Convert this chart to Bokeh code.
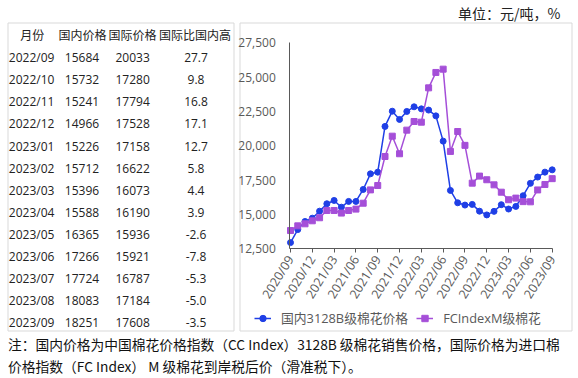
import math
from bokeh.plotting import figure
from bokeh.models import (Range1d, FixedTicker, NumeralTickFormatter, Legend,
                          LegendItem, ColumnDataSource)
from bokeh.embed import file_html
from bokeh.resources import INLINE
from bokeh.core.properties import value

# ---------------- data ----------------
tick_labels = ["2020/09", "2020/12", "2021/03", "2021/06", "2021/09", "2021/12",
               "2022/03", "2022/06", "2022/09", "2022/12", "2023/03", "2023/06", "2023/09"]
domestic = [12950, 13900, 14490, 14730, 15240, 15780, 16020, 15530, 15950, 15950,
            16820, 17960, 18080, 21410, 22520, 21920, 22500, 22840, 22690, 22600,
            22180, 20340, 16750, 15850,
            15684, 15732, 15241, 14966, 15226, 15712, 15396, 15588, 16365, 17266,
            17724, 18083, 18251]
international = [13830, 14170, 14320, 14540, 14760, 15290, 15290, 15100, 15290, 15390,
                 15820, 16790, 17110, 19220, 20700, 19420, 21140, 21770, 21720, 24220,
                 25340, 25580, 19590, 21040,
                 20033, 17280, 17794, 17528, 17158, 16622, 16073, 16190, 15936, 15921,
                 16787, 17184, 17608]
y_ticks = [12500, 15000, 17500, 20000, 22500, 25000, 27500]

table_months = ["2022/09", "2022/10", "2022/11", "2022/12", "2023/01", "2023/02", "2023/03",
                "2023/04", "2023/05", "2023/06", "2023/07", "2023/08", "2023/09"]
table_domestic = [15684, 15732, 15241, 14966, 15226, 15712, 15396, 15588, 16365, 17266,
                  17724, 18083, 18251]
table_international = [20033, 17280, 17794, 17528, 17158, 16622, 16073, 16190, 15936, 15921,
                       16787, 17184, 17608]
table_ratio = [27.7, 9.8, 16.8, 17.1, 12.7, 5.8, 4.4, 3.9, -2.6, -7.8, -5.3, -5.0, -3.5]
table_header = ["月份", "国内价格", "国际价格", "国际比国内高"]

series_names = ["国内3128B级棉花价格", "FCIndexM级棉花"]
unit_text = "单位：元/吨，%"
note_lines = ["注：国内价格为中国棉花价格指数（CC Index）3128B 级棉花销售价格，国际价格为进口棉",
              "价格指数（FC Index） M 级棉花到岸税后价（滑准税下）。"]

# ---------------- styles / geometry ----------------
FONT = "Open Sans, Noto Sans CJK SC"
CJK = "Noto Sans CJK SC"
BLUE = "#1f3fe6"
PURPLE = "#a54fd8"
AXIS_GREY = "#595959"
BOX_GREY = "#d9d9d9"
TXT = "#222222"

W, H = 578, 378
# chart plot area in page pixels
X0_PX, X36_PX = 290.0, 551.7          # positions of first / last month
Y_LO_PX, Y_HI_PX = 248.3, 42.3        # positions of 12,500 and 27,500
n_pts = len(domestic)
ppx = (X36_PX - X0_PX) / (n_pts - 1)
upy = (y_ticks[-1] - y_ticks[0]) / (Y_LO_PX - Y_HI_PX)
x_start = -X0_PX / ppx
x_end = (W - X0_PX) / ppx
y_start = y_ticks[0] - (H - Y_LO_PX) * upy
y_end = y_ticks[-1] + Y_HI_PX * upy

p = figure(width=W, height=H, x_range=Range1d(x_start, x_end),
           y_range=Range1d(y_start, y_end), output_backend="svg",
           toolbar_location=None, min_border=0)
p.min_border_left = p.min_border_right = p.min_border_top = p.min_border_bottom = 0
p.grid.visible = False
p.outline_line_color = None
p.extra_x_ranges = {"px": Range1d(0, W)}
p.extra_y_ranges = {"px": Range1d(H, 0)}
PX = dict(x_range_name="px", y_range_name="px")

# ---------------- frames (boxes) ----------------
p.quad(left=[7.5, 239.5], right=[233.5, 571.5], top=[22.5, 22.5], bottom=[330.5, 330.5],
       fill_color=None, line_color=BOX_GREY, line_width=1, **PX)

# ---------------- unit text ----------------
p.text(x=[560], y=[12], text=[unit_text], text_align="right", text_baseline="middle",
       text_font=value(CJK), text_font_size="14px", text_color=TXT, **PX)

# ---------------- table ----------------
hdr_x = [31.7, 82, 132, 194.5]
p.text(x=hdr_x, y=[35] * 4, text=table_header, text_align="center", text_baseline="middle",
       text_font=value(FONT), text_font_size="12px", text_color=TXT, **PX)
row_y = [57.3 + 22.05 * k for k in range(len(table_months))]
tsrc = ColumnDataSource(dict(
    y=row_y, m=table_months,
    d=[str(v) for v in table_domestic],
    i=[str(v) for v in table_international],
    r=["%.1f" % v for v in table_ratio]))
common = dict(source=tsrc, y="y", text_baseline="middle", text_font=value(FONT),
              text_font_size="12px", text_color=TXT, **PX)
p.text(x=8.3, text="m", text_align="left", **common)
p.text(x=64.3, text="d", text_align="left", **common)
p.text(x=115, text="i", text_align="left", **common)
p.text(x=195.5, text="r", text_align="center", **common)

# ---------------- chart axes ----------------
ya = p.yaxis[0]
ya.fixed_location = -0.1
ya.bounds = (y_ticks[0], y_ticks[-1])
ya.ticker = FixedTicker(ticks=y_ticks)
ya.formatter = NumeralTickFormatter(format="0,0")
ya.major_tick_line_color = None
ya.minor_tick_line_color = None
ya.axis_line_color = AXIS_GREY
ya.major_label_standoff = 8
ya.major_label_text_font = FONT
ya.major_label_text_font_size = "12px"
ya.major_label_text_color = AXIS_GREY

xa = p.xaxis[0]
xa.fixed_location = y_ticks[0]
xa.bounds = (-0.1, n_pts - 1)
xa.ticker = FixedTicker(ticks=[3 * k for k in range(len(tick_labels))])
xa.major_label_overrides = {3 * k: lbl for k, lbl in enumerate(tick_labels)}
xa.major_label_orientation = math.radians(58)
xa.major_tick_in = 0
xa.major_tick_out = 4
xa.minor_tick_line_color = None
xa.axis_line_color = AXIS_GREY
xa.major_tick_line_color = AXIS_GREY
xa.major_label_standoff = 4
xa.major_label_text_font = FONT
xa.major_label_text_font_size = "12.5px"
xa.major_label_text_color = AXIS_GREY

# ---------------- series ----------------
idx = list(range(n_pts))
src = ColumnDataSource(dict(idx=idx, domestic=domestic, international=international))
l1 = p.line("idx", "domestic", source=src, line_color=BLUE, line_width=1.5)
s1 = p.scatter("idx", "domestic", source=src, marker="circle", size=6,
               fill_color=BLUE, line_color=BLUE)
l2 = p.line("idx", "international", source=src, line_color=PURPLE, line_width=1.5)
s2 = p.scatter("idx", "international", source=src, marker="square", size=6,
               fill_color=PURPLE, line_color=PURPLE)

leg = Legend(items=[LegendItem(label=series_names[0], renderers=[l1, s1]),
                    LegendItem(label=series_names[1], renderers=[l2, s2])],
             location=(254, 51), orientation="horizontal", padding=2, margin=0,
             spacing=8, glyph_width=17, glyph_height=16, label_height=16,
             label_standoff=10, border_line_color=None, background_fill_alpha=0,
             label_text_font=FONT, label_text_font_size="12.8px",
             label_text_color=AXIS_GREY)
p.add_layout(leg, "center")

# ---------------- note ----------------
p.text(x=[7.5, 7.5], y=[343, 365], text=note_lines, text_align="left",
       text_baseline="middle", text_font=value(CJK), text_font_size="13.75px",
       text_color="#111111", **PX)

open("out.html", "w").write(file_html(p, INLINE))
